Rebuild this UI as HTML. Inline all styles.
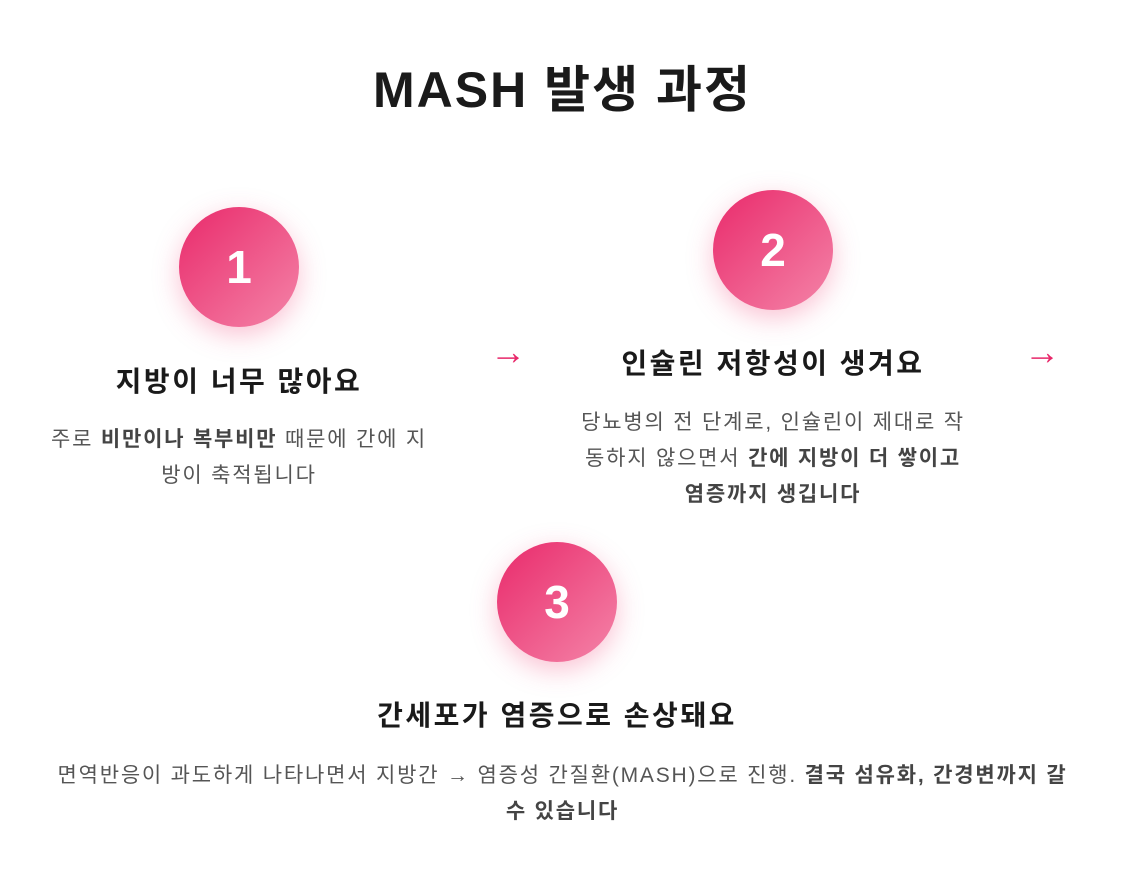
<!DOCTYPE html>
<html><head><meta charset="utf-8"><style>
body{margin:0;width:1125px;height:880px;background:#fff;position:relative;overflow:hidden;font-family:"Liberation Sans","Noto Sans CJK KR",sans-serif;color:#1a1a1a}
.a{position:absolute;text-align:center;white-space:nowrap}
.t{left:0;width:1125px;top:58px;font-size:50px;font-weight:bold;line-height:64px;letter-spacing:2px}
.c{position:absolute;width:120px;height:120px;border-radius:50%;background:linear-gradient(135deg,#e92a6b,#f484a8);box-shadow:0 8px 26px rgba(240,80,130,.35);color:#fff;font-weight:bold;font-size:46px;line-height:120px;text-align:center}
.h{font-size:28px;font-weight:bold;line-height:40px;letter-spacing:2.5px}
.d{font-size:21px;color:#555;line-height:36px;letter-spacing:1.8px}
.d b{color:#444}
.ar{position:absolute;color:#e8286a;font-size:36px;line-height:36px}
</style></head><body>
<div class="a t">MASH 발생 과정</div>
<div class="c" style="left:179px;top:207px">1</div>
<div class="c" style="left:713px;top:190px">2</div>
<div class="c" style="left:497px;top:542px">3</div>
<div class="ar" style="left:490px;top:334px">→</div>
<div class="ar" style="left:1024px;top:334px">→</div>
<div class="a h" style="left:-11px;width:500px;top:362px">지방이 너무 많아요</div>
<div class="a d" style="left:-11px;width:500px;top:422px">주로 <b>비만이나 복부비만</b> 때문에 간에 지<br>방이 축적됩니다</div>
<div class="a h" style="left:523px;width:500px;top:344px">인슐린 저항성이 생겨요</div>
<div class="a d" style="left:523px;width:500px;top:405px">당뇨병의 전 단계로, 인슐린이 제대로 작<br>동하지 않으면서 <b>간에 지방이 더 쌓이고<br>염증까지 생깁니다</b></div>
<div class="a h" style="left:257px;width:600px;top:696px">간세포가 염증으로 손상돼요</div>
<div class="a d" style="left:0;width:1125px;top:758px">면역반응이 과도하게 나타나면서 지방간 → 염증성 간질환(MASH)으로 진행. <b>결국 섬유화, 간경변까지 갈<br>수 있습니다</b></div>
</body></html>
